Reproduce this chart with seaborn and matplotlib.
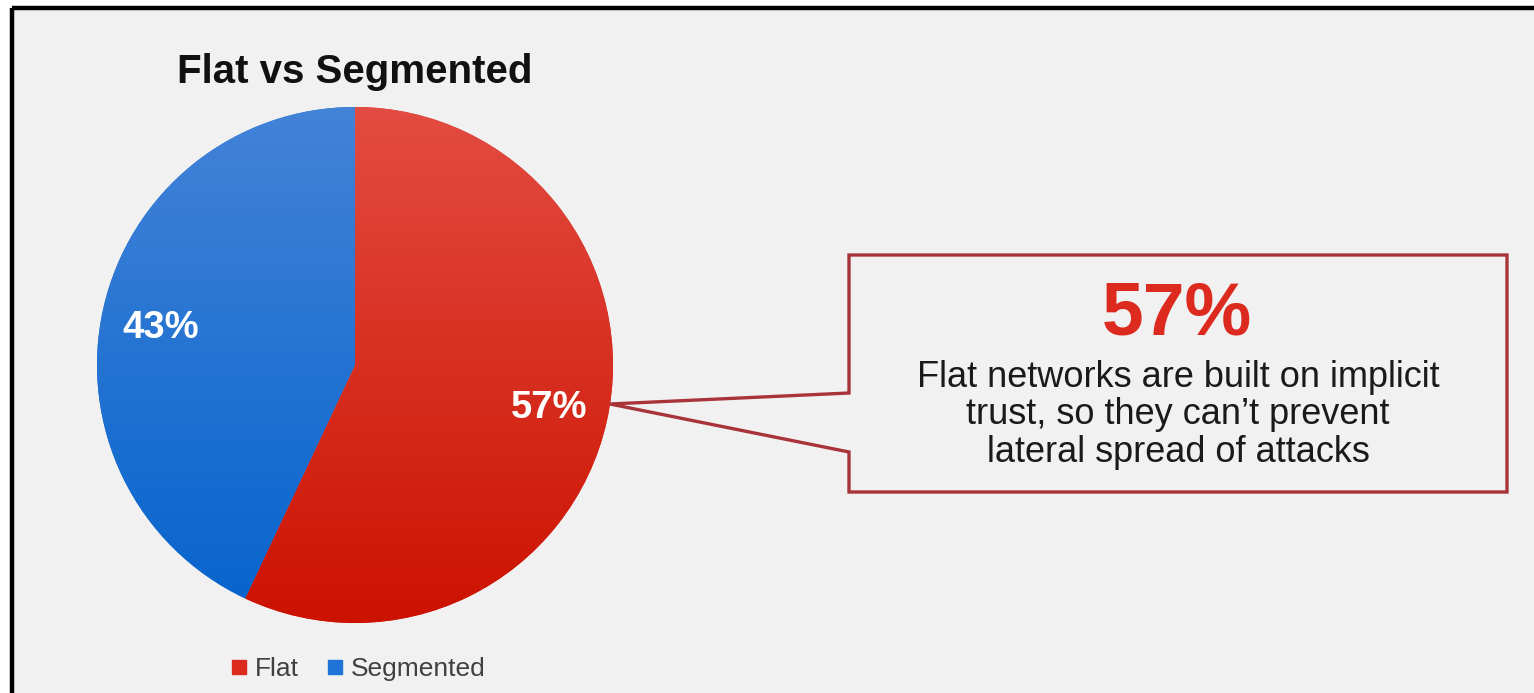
import numpy as np
import matplotlib
matplotlib.use("Agg")
import matplotlib.pyplot as plt
import seaborn as sns
from matplotlib.colors import LinearSegmentedColormap
from matplotlib.patches import Polygon, Rectangle
from matplotlib.lines import Line2D

# ---- data ----
categories = ["Flat", "Segmented"]
shares = [57, 43]
chart_title = "Flat vs Segmented"
callout_value = "57%"
callout_text = "Flat networks are built on implicit\ntrust, so they can\u2019t prevent\nlateral spread of attacks"

# ---- style ----
sns.set_theme(style="white")
plt.rcParams["font.family"] = ["Liberation Sans", "DejaVu Sans"]

W, H = 1534, 693
BG = "#f1f1f1"
grad_colors = {"Flat": ("#e34c42", "#cc1200"), "Segmented": ("#4383d8", "#0563cc")}
legend_colors = {"Flat": "#dc2a1c", "Segmented": "#1f72d6"}

fig = plt.figure(figsize=(W / 100, H / 100), dpi=100, facecolor="white")
ax = fig.add_axes([0, 0, 1, 1])
ax.set_xlim(0, W)
ax.set_ylim(0, H)
ax.axis("off")

def Y(py):
    return H - py

# panel background with black border (top & left)
ax.add_patch(Rectangle((10, 0), W - 10, Y(6), facecolor=BG, edgecolor="none", zorder=0))
ax.plot([12, W], [Y(8), Y(8)], color="black", lw=3.2, solid_capstyle="butt", zorder=1)
ax.plot([12, 12], [0, Y(8)], color="black", lw=3.2, solid_capstyle="butt", zorder=1)

# pie
cx, cy, r = 355, Y(365), 258
wedges, texts, autotexts = ax.pie(
    shares, labels=None, startangle=90, counterclock=False,
    center=(cx, cy), radius=r, frame=True,
    colors=[legend_colors[c] for c in categories],
    autopct=lambda p: f"{p:.0f}%", pctdistance=0.77,
    wedgeprops=dict(linewidth=0),
    textprops=dict(color="white", fontsize=27.5, fontweight="bold"),
)
grad = np.linspace(0, 1, 256).reshape(-1, 1)
for w, c in zip(wedges, categories):
    top, bot = grad_colors[c]
    cmap = LinearSegmentedColormap.from_list(c, [bot, top])
    im = ax.imshow(grad, cmap=cmap, extent=(cx - r, cx + r, cy - r, cy + r),
                   origin="lower", aspect="auto", zorder=2, interpolation="bilinear")
    im.set_clip_path(w)
for t in autotexts:
    t.set_zorder(5)
# fine placement of the 43% label (slightly lower, as in the reference)
x43, y43 = autotexts[1].get_position()
autotexts[1].set_position((x43, y43 - 6))

ax.set_xlim(0, W)
ax.set_ylim(0, H)
ax.set_aspect("equal")
ax.axis("off")

# title
ax.text(177, Y(72), chart_title, fontsize=29, fontweight="bold", color="#111111",
        ha="left", va="center", zorder=5)

# callout box with pointer
pts = [(849, Y(255)), (1507, Y(255)), (1507, Y(492)), (849, Y(492)),
       (849, Y(452)), (610, Y(404)), (849, Y(393))]
ax.add_patch(Polygon(pts, closed=True, fill=False, edgecolor="#a8343a", lw=2.4,
                     joinstyle="miter", zorder=4))
ax.text(1177, Y(315), callout_value, fontsize=54, fontweight="bold", color="#dc2a1f",
        ha="center", va="center", zorder=5)
ax.text(1178, Y(415), callout_text, fontsize=26, color="#1a1a1a", ha="center", va="center",
        linespacing=1.1, zorder=5)

# legend
handles = [Line2D([], [], marker="s", ls="", color=legend_colors[c], markersize=10.5)
           for c in categories]
leg = ax.legend(handles, categories, loc="center", bbox_to_anchor=(357, Y(669)),
                bbox_transform=ax.transData, ncol=2, frameon=False, fontsize=19,
                handletextpad=0.2, columnspacing=1.0, handlelength=0.8,
                labelcolor="#404040")

fig.savefig("out.png", dpi=100, facecolor="white")
